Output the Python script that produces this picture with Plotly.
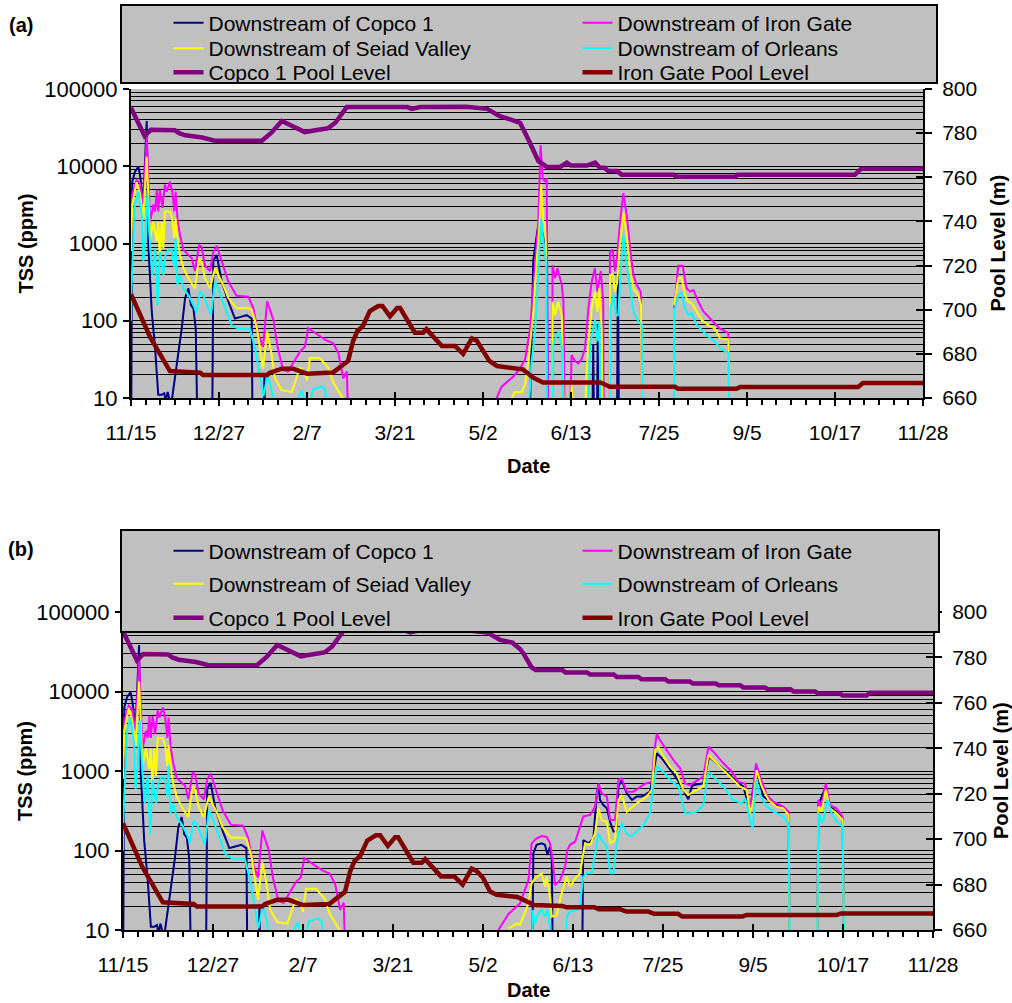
import plotly.graph_objects as go

W, H = 1012, 1003
FONT = "Liberation Sans, Arial, sans-serif"

# ---------------- axes / labels ----------------
date_ticks = [0, 42, 84, 126, 168, 210, 252, 294, 336, 378]
date_labels = ["11/15", "12/27", "2/7", "3/21", "5/2", "6/13", "7/25", "9/5", "10/17", "11/28"]
tss_ticks = [10, 100, 1000, 10000, 100000]
tss_labels = ["10", "100", "1000", "10000", "100000"]
tss_minor = [m * d for d in (10, 100, 1000, 10000) for m in range(2, 10)]
pool_ticks = [660, 680, 700, 720, 740, 760, 780, 800]

series_names = ["Downstream of Copco 1", "Downstream of Iron Gate", "Downstream of Seiad Valley",
                "Downstream of Orleans", "Copco 1 Pool Level", "Iron Gate Pool Level"]
series_colors = ["#000080", "#FF00FF", "#FFFF00", "#00FFFF", "#800080", "#800000"]

# ---------------- data: days after 11/15 ----------------
# shared first part (identical in both panels)
copco1_early_day = [0, 0.3, 0.6, 1.9, 3.5, 4.3, 5.9, 7.5, 8.3, 9.9, 11.5, 13.0, 14.6, 15.9, 16.5, 17.5, 18.6,
                    19.4, 21.0, 22.6, 24.2, 25.8, 27.4, 28.6, 29.8, 30.9, 32.1, None, 38.6, 39.3, 40.9, 43.3,
                    46.5, 49.6, 52.8, 55.2, 57.6, 58.2, None, 63.0, 63.7, 64.3]
copco1_early_tss = [1, 1000, 6300, 8500, 9800, 7700, 3500, 38500, 950, 132, 44, 11, 11, 11.5, 9, 12, 9,
                    9, 18, 36, 79, 195, 263, 160, 145, 79, 1, None, 1, 600, 710, 320,
                    176, 107, 113, 118, 107, 1, None, 1, 21, 1]

irongate_early_day = [0, 0.6, 2.7, 4.3, 5.9, 7.5, 9.1, 10.7, 11.5, 12.3, 13.0, 13.8, 15.0, 16.2, 17.0, 18.6,
                      19.7, 20.7, 21.3, 22.3, 23.4, 25.0, 27.4, 29.0, 30.5, 32.5, 33.7, 35.3, 37.7, 39.3,
                      40.9, 43.3, 46.5, 50.4, 56.0, 58.4, 60.8, 63.0, 65.0, 68.0, 70.0, 72.6, 75.0, 80.7,
                      83.0, 84.6, 90.0, 92.6, 96.5, 99.0, 101.3, 103.0, 104.5]
irongate_early_tss = [1000, 4300, 6600, 6000, 3200, 25000, 1900, 3200, 2600, 4900, 2600, 4900, 2900, 5800,
                      4700, 6300, 4700, 2600, 4700, 1900, 1300, 830, 710, 650, 440, 950, 910, 520, 440, 780,
                      930, 580, 320, 210, 205, 145, 66, 46, 178, 102, 45, 23, 22, 40,
                      46, 80, 63, 57, 51, 38, 18, 22, 1]

seiad_early_day = [0, 0.6, 2.7, 4.3, 5.9, 7.5, 9.1, 10.7, 12.3, 13.0, 13.8, 14.6, 15.4, 16.2, 18.6, 19.7,
                   20.7, 21.3, 22.3, 23.4, 25.0, 27.4, 30.5, 32.5, 33.7, 35.3, 37.7, 40.1, 43.3, 46.5,
                   50.4, 56.0, 57.7, 60.0, 63.0, 65.0, 67.0, 68.7, 72.0, 76.7, 80.7, 83.0, 84.0, 85.4,
                   90.0, 94.0, 96.5, 101.0, 102.0]
seiad_early_tss = [800, 3200, 6200, 4300, 2100, 13300, 1170, 1900, 1060, 1900, 580, 1900, 870, 2600, 2600,
                   2100, 1170, 2100, 1060, 710, 480, 355, 263, 645, 580, 355, 263, 480, 320, 195,
                   145, 145, 138, 84, 24, 72, 38, 18, 12.6, 12, 25, 21, 17, 33,
                   33, 25, 16, 10, 8]

orleans_early_day = [0, 0.2, 1.9, 3.5, 5.1, 5.9, 7.0, 7.8, 9.1, 10.2, 11.5, 12.7, 13.8, 15.4, 16.5, 17.8,
                     19.4, 20.7, 21.3, 22.1, 23.4, 25.0, 27.4, 29.8, 31.3, 32.9, 34.5, 36.9, 38.2, 40.1,
                     41.7, 43.3, 45.7, 48.0, 51.2, 56.8, 59.2, 61.6, 63.2, 65.2, 67.1, 67.9, None, 79.1,
                     81.5, 83.0, None, 85.4, 87.0, 91.0, 92.6, 93.4]
orleans_early_tss = [100, 263, 3200, 4700, 2340, 580, 1300, 4300, 950, 390, 870, 160, 780, 390, 710, 830,
                     830, 480, 1170, 290, 390, 263, 215, 160, 125, 238, 215, 145, 118, 320,
                     263, 195, 132, 88, 79, 79, 44, 18, 10.5, 20, 13, 9, None, 9,
                     12.5, 9, None, 9, 13, 14, 13, 9]

copco_pool_early_day = [0, 6.5, 9.5, 21, 23, 26, 34, 40, 62.5, 67, 72, 77, 83, 88, 94, 97.5, 103, 132, 134,
                        138, 160, 170, 176]
copco_pool_early_m = [791.5, 778.7, 781.5, 781.3, 780, 779, 778, 776.6, 776.6, 780.2, 785.5, 783.2, 780.5,
                      781.3, 782.2, 784.7, 791.8, 791.8, 791, 791.8, 792, 791, 787.7]

ig_pool_early_day = [0, 9.1, 18.6, 33, 34.4, 65, 66.3, 72, 77.3, 80.7, 84, 96.4, 101, 103.6, 106, 108,
                     110.7, 114, 118, 120, 123.6, 127, 128.4, 131.7, 135.5, 139.4, 141, 148.4, 154.6,
                     158.5, 162.7, 165]
ig_pool_early_m = [707, 687.6, 672.2, 671.5, 670.4, 670.4, 671.5, 673.3, 673.3, 672.2, 671, 671.5, 674.5,
                   676.8, 685.8, 690.3, 692.6, 699.4, 701.7, 701.7, 697, 700.8, 700.8, 695.8, 689.6,
                   689.6, 691.2, 683.6, 683.6, 680, 687, 686]

# panel (a) second part
a_copco1_day = [189.7, 192.0, 194.0, 196.0, 198.4, 199.0, None, 220.0, 220.6, 221.2, None, 222.2, 222.8,
                223.4, None, 231.8, 232.4, 233.0]
a_copco1_tss = [1, 600, 1500, 1500, 800, 1, None, 1, 50, 1, None, 1, 90, 1, None, 1, 480, 1]

a_irongate_day = [173.5, 174.5, 176.9, 179.3, 182.5, 185.7, 188.1, 190.5, 192.0, 192.8, 194.4, 195.5, 196.5,
                  197.6, 198.4, 199.2, None, 201.0, 201.2, 202.4, 203.5, 205.6, 206.4, 207.2, None, 208.8,
                  210.3, 211.9, 213.5, 215.1, 216.7, 218.3, 219.9, 221.4, 222.6, 224.2, 225.4, 225.7, None,
                  228.4, 228.6, 229.9, 231.0, 232.1, 233.4, 235.0, 236.6, 238.2, 239.8, 241.4, 243.3,
                  244.1, None, 259.2, 261.2, 263.3, 265.2, 266.8, 268.4, 270.8, 273.2, 277.9, 281.1,
                  285.1, 285.9]
a_irongate_tss = [5, 10, 14, 16, 19, 24, 32, 79, 263, 611, 1900, 18800, 7000,
                  6300, 7000, 1, None, 1, 525, 355, 480, 290, 176, 1, None, 1,
                  36, 30, 28, 32, 44, 145, 320, 480, 238, 440, 176, 1, None,
                  1, 780, 830, 440, 710, 1900, 4470, 2340, 870, 390, 290, 238,
                  1, None, 145, 515, 515, 263, 238, 250, 176, 132, 97, 79,
                  69, 1]

a_seiad_day = [181.7, 183.3, 186.5, 188.1, 189.7, 192.0, 193.6, 194.9, 195.7, 196.8, 197.6, 198.1, 198.4,
               None, 201.0, 201.2, 202.4, 203.9, 205.6, 207.2, None, 208.8, 210.3, 212.7, None, 215.9,
               217.2, 218.3, 219.9, 221.4, 222.6, 223.5, 224.6, 225.4, None, 228.4, 228.6, 229.9, 231.0,
               232.1, 233.4, 235.0, 236.6, 238.2, 239.8, 242.2, 243.4, 244.1, None, 259.2, 261.2, 262.8,
               264.4, 266.0, 267.6, 270.0, 272.4, 275.6, 278.7, 281.1, 285.1, 285.9]
a_seiad_tss = [10, 12, 12, 15, 30, 132, 580, 1600, 5800, 1900, 1900, 780, 1,
               None, 1, 176, 118, 176, 118, 1, None, 1, 15, 1, None, 1,
               15, 54, 145, 238, 132, 263, 79, 1, None, 1, 390, 400, 238,
               320, 1060, 2500, 1300, 440, 263, 215, 160, 1, None, 160, 355, 355,
               215, 176, 170, 132, 102, 88, 79, 59, 57, 1]

a_orleans_day = [190.1, 191.2, 192.8, 193.9, 194.9, 195.7, 196.8, 197.6, 198.1, 198.4, None, 201.2, 201.6,
                 203.1, 204.4, 205.6, 207.2, None, 217.5, 219.1, 221.5, 222.6, 223.5, 224.6, None, 228.6,
                 228.9, 230.2, 231.4, 232.6, 233.4, 235.0, 236.6, 238.2, 239.8, 242.2, 243.8, 244.3, None,
                 259.2, 259.3, 261.2, 262.8, 264.4, 266.0, 267.6, 270.0, 272.4, 275.6, 278.7, 281.1,
                 285.1, 285.9]
a_orleans_tss = [10, 30, 66, 215, 780, 2100, 1060, 780, 580, 1, None, 1, 49,
                 66, 72, 44, 1, None, 1, 49, 102, 54, 97, 1, None, 1,
                 145, 215, 118, 118, 320, 1300, 525, 263, 132, 97, 88, 1, None,
                 1, 132, 215, 227, 145, 118, 125, 88, 76, 62, 54, 44,
                 38, 1]

a_copco_pool_day = [181.7, 185.7, 190, 194.4, 198.4, 204.8, 208, 210, 217.5, 221.5, 223.8, 226, 227.8, 232,
                    234.2, 259, 260.4, 288.5, 289.5, 345.5, 348.5, 378]
a_copco_pool_m = [786, 784.7, 776.4, 767.4, 764.7, 764.7, 766.6, 765.3, 765.3, 766.6, 764.3, 764.3, 762.8,
                  762.8, 761.2, 761.2, 760.2, 760.2, 761.2, 761.2, 763.9, 763.9]

a_ig_pool_day = [171, 174.7, 184, 187, 192, 196.6, 224, 228.6, 259.6, 261, 289, 290.7, 347, 349.4, 378]
a_ig_pool_m = [676.8, 674.5, 673.7, 673, 669.2, 667, 667, 665.1, 665.1, 664.2, 664.2, 665, 665, 666.8, 666.8]

# panel (b) second part
b_copco1_day = [190.7, 191.5, 193.0, 195.4, 196.9, 198.1, 199.3, 200.1, 200.8, None, 214.1, 214.8, 217.2,
                219.5, 221.1, 221.9, 222.6, 224.2, 225.8, 227.3, 228.9, 230.1, 231.2, 232.7, 235.1, 237.5,
                239.8, 242.1, 246.0, 249.1, 251.4, 255.3, 258.4, 261.5, 263.8, 265.4, 266.2, 270.8, 273.5,
                277.0, 281.7, 286.4, 289.5, 292.6, 295.4, 298.8, 303.5, 308.1, 310.5, 311.6, None, 323.7,
                324.5, 328.0, 329.9, 333.0, 335.8, 336.9]
b_copco1_tss = [1, 92, 118, 123, 118, 88, 112, 76, 1, None, 1, 135, 123,
                142, 524, 695, 432, 373, 340, 230, 173, 173, 635, 771, 524, 432,
                478, 478, 550, 1670, 1450, 1030, 808, 577, 440, 635, 665, 700, 1515,
                1250, 982, 730, 635, 320, 1080, 478, 392, 339, 294, 1, None, 1,
                373, 635, 356, 308, 250, 1]

b_irongate_day = [175.2, 180.0, 185.3, 189.2, 190.7, 193.0, 195.4, 197.7, 199.3, 200.5, 201.6, 204.0, 206.3,
                  207.4, 208.6, 211.0, 213.3, 214.8, 218.0, 220.3, 221.9, 223.4, 225.8, 227.3, 229.6,
                  231.2, 232.7, 235.1, 238.2, 241.4, 243.7, 246.8, 247.8, 249.1, 250.6, 253.7, 256.9,
                  260.0, 262.3, 264.6, 267.0, 270.8, 273.2, 275.5, 280.2, 284.1, 287.2, 290.3, 292.6,
                  293.9, 295.4, 297.3, 300.4, 303.5, 308.1, 310.5, 311.6, None, 323.7, 324.5, 326.0,
                  328.0, 329.9, 333.0, 335.8, 336.9]
b_irongate_tss = [10, 16, 21.6, 42.5, 123, 142, 152, 148, 123, 76, 36.8, 42.5, 62.6,
                  101, 118, 129, 200, 268, 280, 356, 695, 524, 478, 242, 242,
                  771, 808, 550, 550, 635, 695, 730, 1670, 2930, 2450, 1840, 1375,
                  1080, 695, 665, 730, 850, 2020, 1750, 1250, 980, 730, 695, 356,
                  524, 1250, 850, 500, 412, 356, 310, 1, None, 1, 432, 356,
                  695, 373, 340, 268, 1]

b_seiad_day = [179.8, 181.4, 183.7, 185.3, 186.8, 189.2, 190.7, 192.3, 195.4, 196.9, 197.7, 199.3, 200.1,
               202.4, 204.7, 207.1, 208.6, 211.0, 213.3, 215.6, 218.0, 220.3, 221.9, 223.4, 225.8, 227.3,
               229.6, 231.2, 232.7, 235.1, 239.8, 244.4, 246.8, 248.3, 249.9, 252.2, 255.3, 258.4, 261.5,
               263.8, 266.2, 270.8, 273.2, 275.5, 280.2, 284.8, 288.0, 291.1, 292.6, 294.2, 295.7, 298.1,
               301.2, 305.0, 308.1, 310.5, 311.6, None, 323.7, 324.5, 326.0, 328.0, 329.9, 333.0, 335.8,
               336.9]
b_seiad_tss = [10.5, 11, 12.1, 11.6, 14.7, 21.6, 38.6, 44.7, 51.6, 35.1, 46.9, 26.2, 14.7,
               15.4, 28.9, 46.9, 35.1, 44.7, 51.6, 123, 118, 164, 339, 242, 230, 123,
               135, 432, 499, 308, 392, 478, 577, 1840, 1985, 1515, 1135, 935, 577,
               499, 550, 635, 1590, 1375, 1030, 771, 635, 577, 294, 432, 1030, 635,
               432, 356, 339, 280, 1, None, 1, 356, 308, 577, 339, 294, 242,
               1]

b_orleans_day = [190.7, 191.2, 192.3, 193.8, 195.4, 196.9, 198.1, 199.3, 200.1, None, 206.3, 207.1, 208.6,
                 211.7, 213.3, 214.8, 216.4, 218.7, 220.3, 221.9, 223.4, 225.8, 227.3, 228.9, 230.4, 232.7,
                 235.1, 236.7, 239.8, 242.9, 246.0, 247.5, 249.1, 252.2, 255.3, 259.2, 262.3, 264.6, 267.7,
                 270.8, 273.2, 275.5, 280.2, 284.8, 288.7, 290.3, 292.6, 293.9, 295.4, 297.3, 300.4, 303.5,
                 308.1, 310.5, 311.6, None, 323.7, 324.5, 326.5, 328.7, 330.7, 333.0, 335.8, 336.9]
b_orleans_tss = [1, 17.9, 12.1, 16.2, 17.9, 14.7, 17.9, 11, 1, None, 1, 14.7, 17,
                 17.9, 21.6, 46.9, 51.6, 51.6, 92, 164, 135, 112, 51.6, 51.6, 123, 220,
                 164, 149, 173, 209, 294, 635, 1135, 982, 771, 635, 294, 294, 308,
                 373, 982, 850, 635, 432, 392, 453, 242, 190, 771, 499, 356, 308,
                 268, 220, 1, None, 1, 294, 220, 432, 294, 230, 200, 1]

b_copco_pool_day = [181.7, 185.3, 187.0, 190.7, 192.5, 205.0, 206.5, 216.5, 218.0, 229.0, 230.5, 240.5, 242.0,
                    253.0, 254.5, 264.5, 266.0, 276.5, 278.0, 288.0, 289.5, 299.5, 301.0, 311.5, 313.0,
                    323.0, 324.5, 334.5, 336.0, 347.0, 348.5, 378.0]
b_copco_pool_m = [786.5, 783.7, 781.5, 775.6, 774.5, 774.5, 773.4, 773.4, 772.5, 772.5, 771.4, 771.4, 770.4,
                  770.4, 769.4, 769.4, 768.5, 768.5, 767.8, 767.8, 766.8, 766.8, 766.0, 766.0, 765.0,
                  765.0, 764.1, 764.1, 763.2, 763.2, 764.5, 764.5]

b_ig_pool_day = [168, 171.3, 174.4, 184, 190, 192, 205, 207, 220, 222, 232, 235, 245, 248, 259, 261, 289, 291,
                 333, 335, 378]
b_ig_pool_m = [683, 676.9, 675.5, 674.5, 672, 671, 670.6, 670, 670, 669.1, 669.1, 668.1, 668.1, 667.1, 667.1,
               665.9, 665.9, 666.6, 666.6, 667.3, 667.3]


panels = {
    "a": dict(
        tss=[(copco1_early_day + [None] + a_copco1_day, copco1_early_tss + [None] + a_copco1_tss),
             (irongate_early_day + [None] + a_irongate_day, irongate_early_tss + [None] + a_irongate_tss),
             (seiad_early_day + [None] + a_seiad_day, seiad_early_tss + [None] + a_seiad_tss),
             (orleans_early_day + [None] + a_orleans_day, orleans_early_tss + [None] + a_orleans_tss)],
        pool=[(copco_pool_early_day + a_copco_pool_day, copco_pool_early_m + a_copco_pool_m),
              (ig_pool_early_day + a_ig_pool_day, ig_pool_early_m + a_ig_pool_m)],
        xa="x", ya="y", ya2="y2", xin="x3", yin="y5", legends=["legend", "legend2", "legend3"]),
    "b": dict(
        tss=[(copco1_early_day + [None] + b_copco1_day, copco1_early_tss + [None] + b_copco1_tss),
             (irongate_early_day + [None] + b_irongate_day, irongate_early_tss + [None] + b_irongate_tss),
             (seiad_early_day + [None] + b_seiad_day, seiad_early_tss + [None] + b_seiad_tss),
             (orleans_early_day + [None] + b_orleans_day, orleans_early_tss + [None] + b_orleans_tss)],
        pool=[(copco_pool_early_day + b_copco_pool_day, copco_pool_early_m + b_copco_pool_m),
              (ig_pool_early_day + b_ig_pool_day, ig_pool_early_m + b_ig_pool_m)],
        xa="x2", ya="y3", ya2="y4", xin="x4", yin="y6", legends=["legend4", "legend5", "legend6"]),
}

fig = go.Figure()
row_of = [0, 0, 1, 1, 2, 2]
for key, p in panels.items():
    for i, (xs, ys) in enumerate(p["tss"]):
        fig.add_trace(go.Scatter(x=xs, y=ys, mode="lines", name=series_names[i],
                                 line=dict(color=series_colors[i], width=2),
                                 xaxis=p["xa"], yaxis=p["ya"], legend=p["legends"][row_of[i]],
                                 connectgaps=False, hoverinfo="skip"))
    for j, (xs, ys) in enumerate(p["pool"]):
        i = 4 + j
        fig.add_trace(go.Scatter(x=xs, y=ys, mode="lines", name=series_names[i],
                                 line=dict(color=series_colors[i], width=4.5),
                                 xaxis=p["xa"], yaxis=p["ya2"], legend=p["legends"][row_of[i]],
                                 hoverinfo="skip"))
    # empty helpers so the inner-tick overlay axes are drawn
    fig.add_trace(go.Scatter(x=[], y=[], xaxis=p["xin"], yaxis=p["ya"], showlegend=False,
                             hoverinfo="skip"))
    fig.add_trace(go.Scatter(x=[], y=[], xaxis=p["xa"], yaxis=p["yin"], showlegend=False,
                             hoverinfo="skip"))


def px(x):
    return x / W


def py(y):
    return 1 - y / H


def tfont(size):
    return dict(family=FONT, size=size, color="black")


def xaxis_def(dom, anchor):
    return dict(domain=dom, anchor=anchor, range=[0, 378], tickmode="array", tickvals=date_ticks,
                ticktext=date_labels, ticks="outside", ticklen=6, tickwidth=2, tickcolor="black",
                showline=True, linewidth=2, linecolor="black", showgrid=False, zeroline=False,
                tickfont=tfont(21), ticklabelstandoff=9,
                minor=dict(tickmode="linear", tick0=0, dtick=7, ticks="outside", ticklen=5,
                           tickwidth=2, tickcolor="black", showgrid=False))


def xaxis_inner(overlay, anchor):
    return dict(overlaying=overlay, anchor=anchor, side="bottom", range=[0, 378], tickmode="array",
                tickvals=date_ticks, ticks="inside", ticklen=6, tickwidth=2, tickcolor="black",
                showticklabels=False, showline=False, showgrid=False, zeroline=False)


def yaxis_log(dom, anchor):
    return dict(domain=dom, anchor=anchor, type="log", range=[1, 5], tickmode="array",
                tickvals=tss_ticks, ticktext=tss_labels, ticks="outside", ticklen=6, tickwidth=2,
                tickcolor="black", showline=True, linewidth=2, linecolor="black",
                showgrid=True, gridcolor="black", gridwidth=1, zeroline=False, tickfont=tfont(22),
                ticklabelstandoff=1,
                minor=dict(tickmode="array", tickvals=tss_minor, showgrid=True, gridcolor="black",
                           gridwidth=1, ticks=""))


def yaxis_pool(overlay, anchor):
    return dict(overlaying=overlay, anchor=anchor, side="right", range=[660, 800], tickmode="array",
                tickvals=pool_ticks, ticks="outside", ticklen=7, tickwidth=2, tickcolor="black",
                showline=True, linewidth=2, linecolor="black", showgrid=False, zeroline=False,
                tickfont=tfont(21), ticklabelstandoff=6)


def yaxis_pool_inner(overlay, anchor):
    return dict(overlaying=overlay, anchor=anchor, side="right", range=[660, 800], tickmode="array",
                tickvals=pool_ticks, ticks="inside", ticklen=7, tickwidth=2, tickcolor="black",
                showticklabels=False, showline=False, showgrid=False, zeroline=False)


a_top, a_bot, a_left, a_right = 89, 398, 131, 923
b_top, b_bot, b_left, b_right = 612, 930, 123, 933

fig.update_layout(
    width=W, height=H, margin=dict(l=0, r=0, t=0, b=0, pad=0, autoexpand=False),
    paper_bgcolor="white", plot_bgcolor="#C0C0C0",
    xaxis=xaxis_def([px(a_left), px(a_right)], "y"),
    yaxis=yaxis_log([py(a_bot), py(a_top)], "x"),
    yaxis2=yaxis_pool("y", "x"),
    xaxis3=xaxis_inner("x", "y"),
    yaxis5=yaxis_pool_inner("y", "x"),
    xaxis2=xaxis_def([px(b_left), px(b_right)], "y3"),
    yaxis3=yaxis_log([py(b_bot), py(b_top)], "x2"),
    yaxis4=yaxis_pool("y3", "x2"),
    xaxis4=xaxis_inner("x2", "y3"),
    yaxis6=yaxis_pool_inner("y3", "x2"),
)

# legend boxes
bold = dict(family=FONT, size=20, color="black")
for (x0, y0, x1, y1) in [(121, 5, 937, 83), (121, 530, 939, 632)]:
    fig.add_shape(type="rect", xref="paper", yref="paper", x0=px(x0), x1=px(x1), y0=py(y1), y1=py(y0),
                  fillcolor="#C0C0C0", line=dict(color="black", width=2), layer="above")

legend_rows = {"legend": 23, "legend2": 48.5, "legend3": 72.5,
               "legend4": 551, "legend5": 584, "legend6": 618}
for name, yc in legend_rows.items():
    fig.update_layout({name: dict(orientation="h", x=px(168.5), xanchor="left", y=py(yc),
                                  yanchor="middle", bgcolor="rgba(0,0,0,0)", borderwidth=0,
                                  entrywidth=364, entrywidthmode="pixels", itemwidth=30,
                                  font=dict(family=FONT, size=21, color="black"),
                                  traceorder="normal")})

annos = [
    ("<b>(a)</b>", 21, 25, 0), ("<b>(b)</b>", 21, 549, 0),
    ("<b>TSS (ppm)</b>", 25, 243.5, -90), ("<b>Pool Level (m)</b>", 997, 243.5, -90),
    ("<b>Date</b>", 528, 466, 0),
    ("<b>TSS (ppm)</b>", 25, 771, -90), ("<b>Pool Level (m)</b>", 1001, 771, -90),
    ("<b>Date</b>", 528, 990, 0),
]
for text, x, y, ang in annos:
    fig.add_annotation(text=text, x=px(x), y=py(y), xref="paper", yref="paper", showarrow=False,
                       xanchor="center", yanchor="middle", textangle=ang, font=bold)

fig.write_html("out.html", config={"displayModeBar": False})
